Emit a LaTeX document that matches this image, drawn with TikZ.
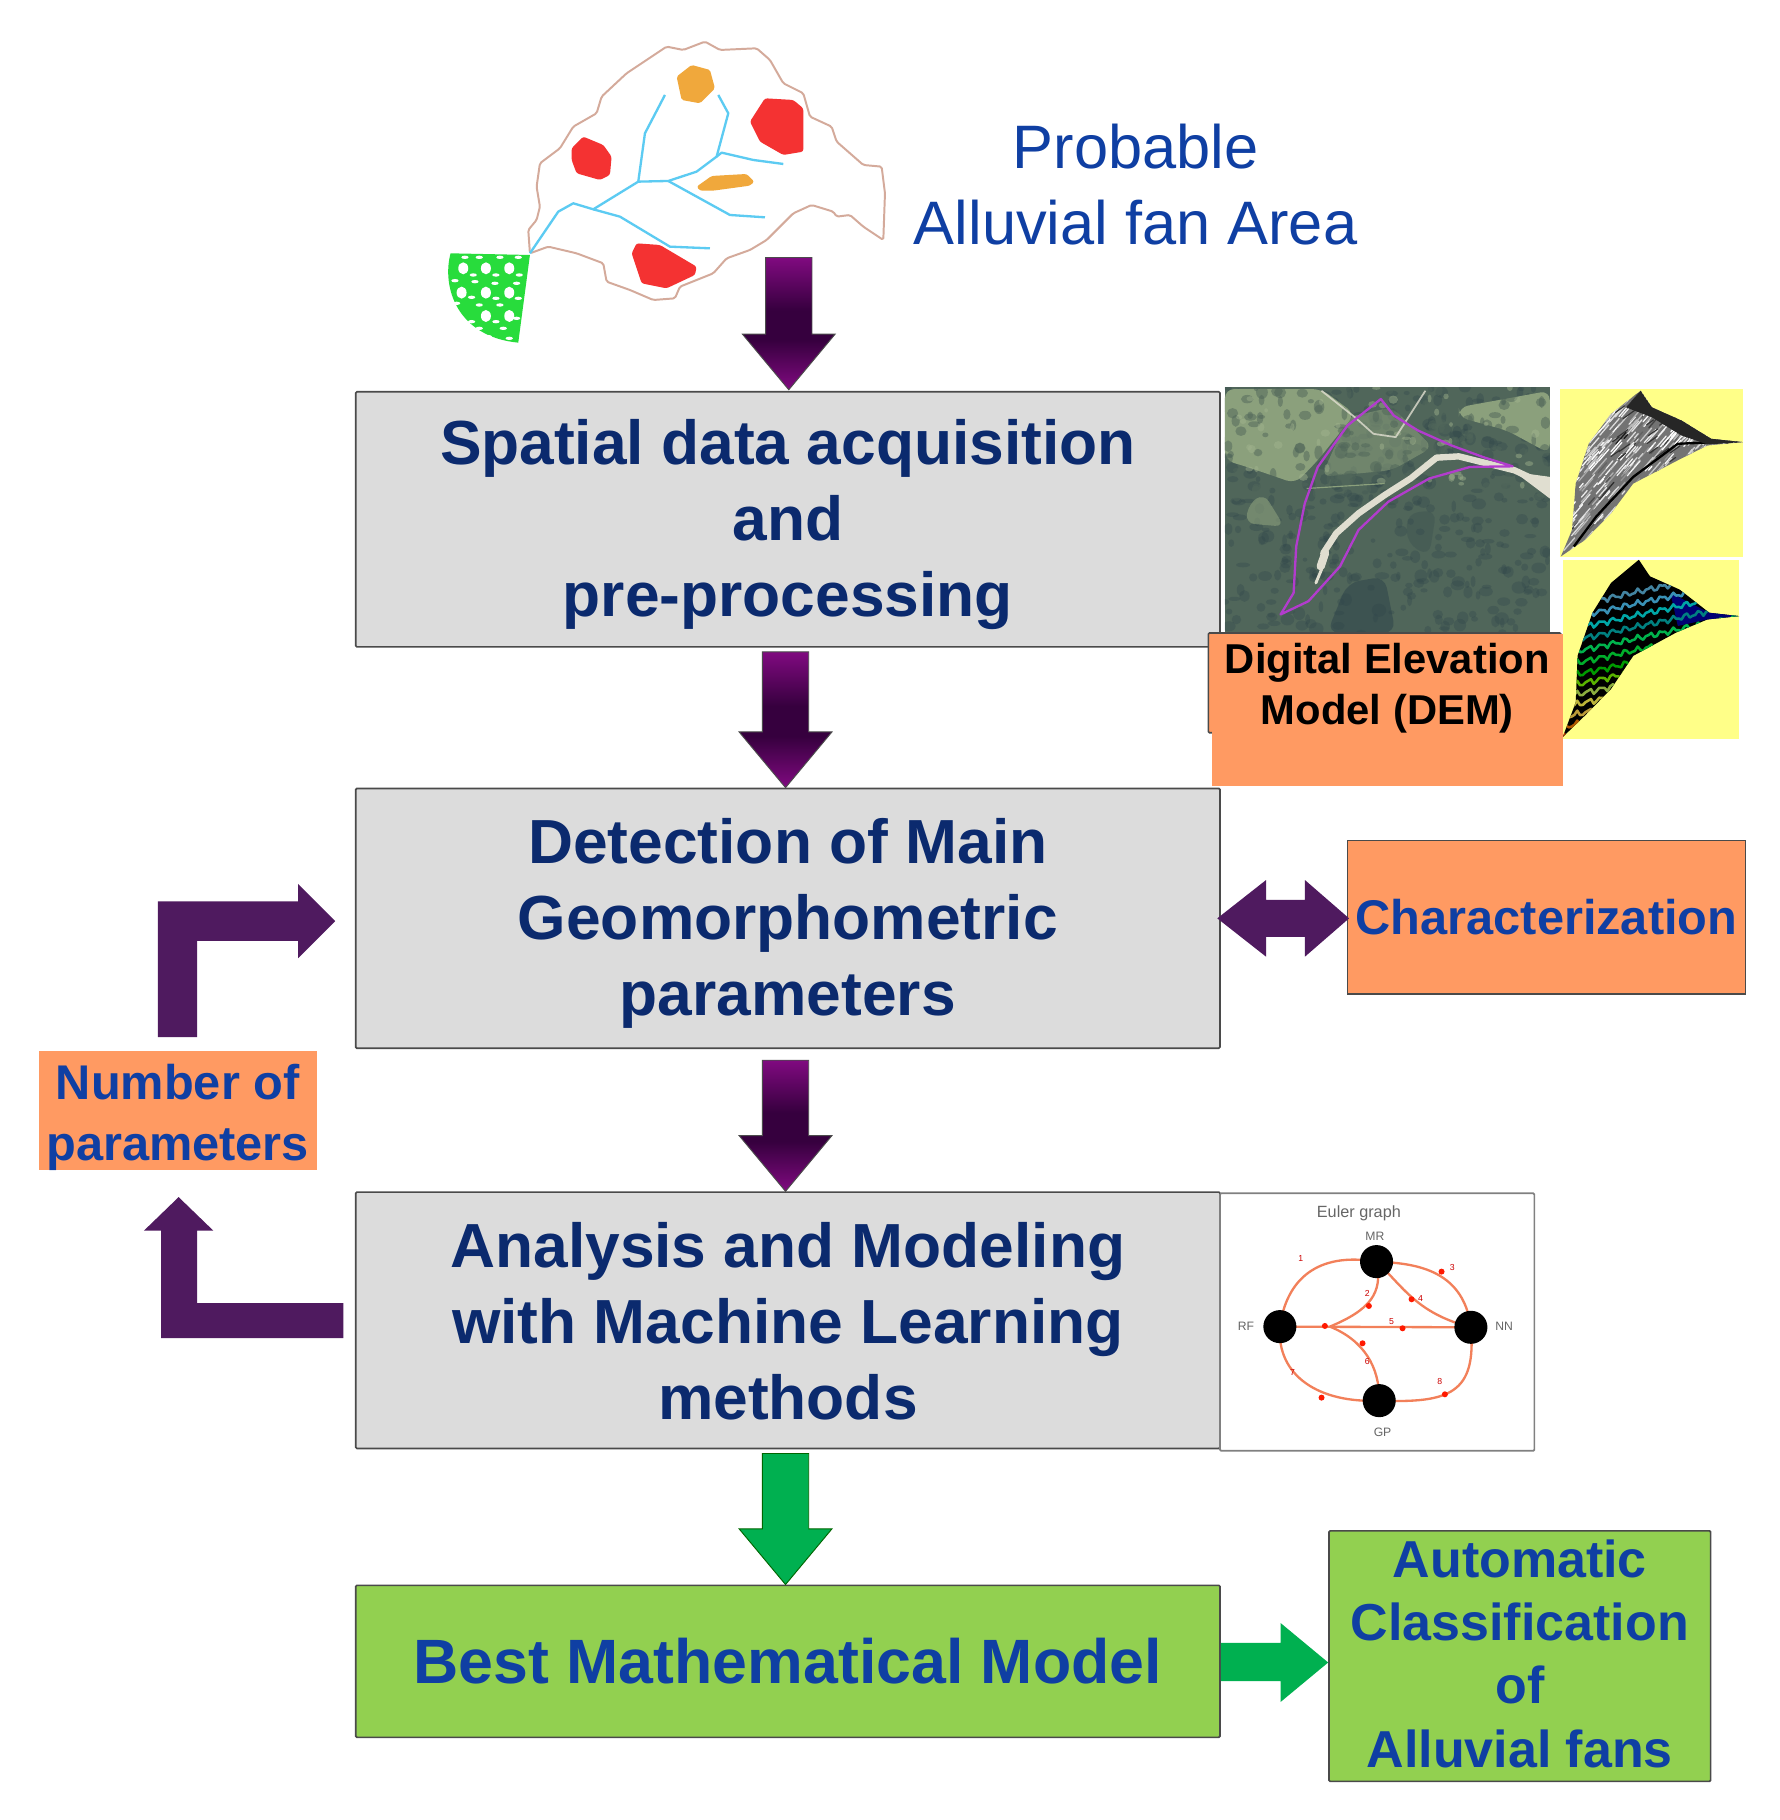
\documentclass[tikz,border=0pt]{standalone}
\usepackage{fontspec}
\setmainfont{Liberation Sans}
\usetikzlibrary{calc,arrows.meta,shadings}
\definecolor{navy}{HTML}{0B2A6E}
\definecolor{blu}{HTML}{0F3FA3}
\definecolor{boxgrey}{HTML}{DCDCDC}
\definecolor{edgegrey}{HTML}{4A4A4A}
\definecolor{lime}{HTML}{92D050}
\definecolor{salmon}{HTML}{FF9A62}
\definecolor{plum}{HTML}{4F1A5F}
\definecolor{arrowgreen}{HTML}{00B050}
\definecolor{pale}{HTML}{FFFF88}
\definecolor{euler}{HTML}{F2805A}
\definecolor{blobred}{HTML}{F43232}
\definecolor{bloborange}{HTML}{F0A83C}
\definecolor{fangreen}{HTML}{28DC3C}
\definecolor{pltip}{HTML}{800A80}
\definecolor{pldark}{HTML}{36003E}
\definecolor{pltop}{HTML}{800A80}
\definecolor{forest}{HTML}{50665A}
\definecolor{forestdark}{HTML}{2E444A}
\definecolor{field}{HTML}{8BA07C}
\definecolor{fieldlight}{HTML}{A2B48E}
\definecolor{gravel}{HTML}{E0DED0}
\definecolor{fanoutline}{HTML}{D4AA9B}
\definecolor{stream}{HTML}{5CCBF2}
\pgfdeclareverticalshading{plumshade}{100bp}{
 color(0bp)=(pltip); color(25bp)=(pltip); color(44bp)=(pldark); color(55bp)=(pldark); color(75bp)=(pltop); color(100bp)=(pltop)}
\tikzset{
 stepbox/.style={draw=edgegrey,line width=1.4pt,fill=boxgrey,rounded corners=1pt},
 greenbox/.style={draw=edgegrey,line width=1.4pt,fill=lime,rounded corners=1pt},
 saltbox/.style={draw=edgegrey,line width=1.4pt,fill=salmon},
 plainsalt/.style={fill=salmon},
 mainfont/.style={font=\fontsize{53.7}{65.5}\selectfont\bfseries,align=center,text=navy},
 side/.style={font=\fontsize{42}{52}\selectfont\bfseries,align=center,text=blu},
 enode/.style={circle,fill=black,inner sep=0pt,minimum size=28.5pt},
 elabel/.style={font=\fontsize{10.5}{12}\selectfont,text=black!60},
 enum/.style={font=\fontsize{7.5}{8}\selectfont,text=red!80!black,inner sep=0pt},
 eedge/.style={draw=euler,line width=2pt},
 fatfill/.style={fill=plum},
}
% fat downward arrow from #1 to #2; #3 = fill options
\newcommand{\fatdown}[3]{%
 \path[#3] let \p1=#1, \p2=#2 in
  (\x2-20pt,\y1) -- (\x2+20pt,\y1) -- (\x2+20pt,\y2+48pt) -- (\x2+40pt,\y2+48pt)
  -- (\x2,\y2) -- (\x2-40pt,\y2+48pt) -- (\x2-20pt,\y2+48pt) -- cycle;
}
\begin{document}
\begin{tikzpicture}[x=1pt,y=-1pt]
\useasboundingbox[fill=white] (0,0) rectangle (1534.5,1569);

% ---------- catchment sketch
\begin{scope}[shift={(362,17.2)},x=.2874pt,y=-.2874pt]
\fill[blobred,rounded corners=2pt] (455,385)--(490,350)--(550,375)--(575,410)--(570,465)--(540,480)--(470,460)--(455,420)--cycle;
\fill[blobred,rounded corners=2pt] (990,305)--(1035,235)--(1120,240)--(1150,265)--(1150,395)--(1090,405)--(1020,365)--cycle;
\fill[blobred,rounded corners=2pt] (635,700)--(650,670)--(720,675)--(830,740)--(825,765)--(740,805)--(665,790)--cycle;
\fill[bloborange,rounded corners=1.5pt] (770,170)--(815,135)--(870,150)--(885,205)--(840,250)--(785,240)--cycle;
\fill[bloborange,rounded corners=2pt] (830,500)--(875,468)--(980,462)--(1003,485)--(990,497)--(880,512)--(840,512)--cycle;
\draw[fanoutline,line width=1.7pt,line join=round,rounded corners=1.5pt]
 (330,700)--(325,630)--(350,600)--(360,560)--(350,500)--(360,430)--(420,385)--(460,320)--(530,280)--(545,230)--(620,160)--(740,80)--(790,90)--(855,65)--(900,90)--(1010,85)--(1050,120)--(1090,190)--(1150,220)--(1170,290)--(1235,320)--(1250,365)--(1330,435)--(1385,440)--(1395,520)--(1390,660)--(1330,620)--(1290,585)--(1250,590)--(1240,575)--(1175,555)--(1120,580)--(1040,660)--(990,690)--(920,715)--(880,760)--(780,800)--(765,835)--(700,840)--(630,810)--(560,785)--(550,730)--(470,700)--(385,680)--cycle;
\begin{scope}[stream,line width=2pt,line join=round]
\draw (330,700)--(415,575)--(460,550)--(520,568)--(655,485)--(745,483)--(830,455)--(890,410)--(925,280)--(895,225);
\draw (655,485)--(675,340)--(735,225);
\draw (890,410)--(905,398)--(1000,420)--(1090,432);
\draw (745,483)--(930,585)--(1035,592);
\draw (520,568)--(600,590)--(750,680)--(870,685);
\end{scope}
\fill[fangreen] (330,705)--(92,700) .. controls (65,800) and (110,950) .. (295,968) --cycle;
\foreach \xx/\yy in {130/745,198/745,268/745,125/818,198/818,268/818,198/888,268/888}{
 \fill[white] (\xx,\yy) ellipse (15 and 18);}
\foreach \xx/\yy in {135/712,178/712,240/712,295/712,160/765,228/765,298/765,105/782,165/785,225/790,290/790,155/832,228/835,295/835,110/850,178/855,240/855,155/905,228/905,290/895,178/925,205/950,250/925,268/955}{
 \fill[white] (\xx,\yy) ellipse (11 and 5);}
\end{scope}

% ---------- main boxes
\node[stepbox,minimum width=745pt,minimum height=220pt,anchor=north west,inner sep=0pt] (acq) at (306,337) {};
\node[mainfont] (acqt) at ([yshift=-4.5pt]acq.center) {Spatial data acquisition\\and\\pre-processing};
\node[stepbox,minimum width=745pt,minimum height=224pt,anchor=north west,inner sep=0pt] (det) at (306,679) {};
\node[mainfont] (dett) at ([yshift=-4pt]det.center) {Detection of Main\\Geomorphometric\\parameters};
\node[stepbox,minimum width=745pt,minimum height=221pt,anchor=north west,inner sep=0pt] (ana) at (306,1027) {};
\node[mainfont] (anat) at ([yshift=-0.5pt]ana.center) {Analysis and Modeling\\with Machine Learning\\methods};
\node[greenbox,minimum width=745pt,minimum height=131pt,anchor=north west,inner sep=0pt,mainfont,text=blu,font=\fontsize{54}{65}\selectfont\bfseries] (best) at (306,1366) {Best Mathematical Model};

% ---------- side boxes
\node[saltbox,minimum width=343pt,minimum height=132pt,anchor=north west,inner sep=0pt,side] (char) at (1161,724) {Characterization};
\node[plainsalt,minimum width=240pt,minimum height=102pt,anchor=north west,inner sep=0pt] (numpar) at (33,906) {};
\node[side] (numpart) at ([yshift=-6pt]numpar.center) {Number of\\parameters};
\node[greenbox,minimum width=329pt,minimum height=216pt,anchor=north west,inner sep=0pt] (auto) at (1145,1319) {};
\node[side,font=\fontsize{44.8}{54.5}\selectfont\bfseries] (autot) at ([yshift=2pt]auto.center) {Automatic\\Classification\\of\\Alluvial fans};

% ---------- aerial photo
\begin{scope}[shift={(1033.6,319.7)},x=.32pt,y=-.2857pt]
\clip (70,50) rectangle (945,790);
\fill[forest] (70,50) rectangle (945,790);
\pgfmathsetseed{11}
\foreach \i in {1,...,420}{
 \pgfmathsetmacro\px{70+875*rnd}\pgfmathsetmacro\py{50+740*rnd}
 \pgfmathsetmacro\pw{6+14*rnd}\pgfmathsetmacro\ph{6+14*rnd}
 \fill[forestdark,opacity=.3] (\px,\py) ellipse ({\pw} and {\ph});}
\fill[forestdark,opacity=.55,rounded corners=10pt] (345,790)--(400,640)--(500,620)--(530,790)--cycle;
\fill[forestdark,opacity=.25,rounded corners=10pt] (560,430)--(640,420)--(620,560)--(560,520)--cycle;
\fill[field,rounded corners=8pt] (70,55)--(330,55)--(420,130)--(320,270)--(260,340)--(130,290)--(70,270)--cycle;
\fill[field,rounded corners=8pt] (700,110)--(945,60)--(945,250)--(830,180)--(700,140)--cycle;
\fill[field,opacity=.6,rounded corners=8pt] (125,460)--(135,400)--(175,370)--(230,470)--cycle;
\fill[field,opacity=.55,rounded corners=8pt] (400,140)--(520,110)--(630,230)--(520,300)--(330,320)--cycle;
\foreach \i in {1,...,170}{
 \pgfmathsetmacro\px{70+875*rnd}\pgfmathsetmacro\py{50+330*rnd}
 \pgfmathsetmacro\pw{6+12*rnd}\pgfmathsetmacro\ph{6+16*rnd}
 \fill[forest,opacity=.5] (\px,\py) ellipse ({\pw} and {\ph});}
\foreach \i in {1,...,50}{
 \pgfmathsetmacro\px{70+875*rnd}\pgfmathsetmacro\py{50+300*rnd}
 \pgfmathsetmacro\pw{5+8*rnd}\pgfmathsetmacro\ph{5+8*rnd}
 \fill[fieldlight,opacity=.45] (\px,\py) ellipse ({\pw} and {\ph});}
\draw[gravel,line width=1.5pt,line join=round,opacity=.8] (330,60)--(420,140)--(470,190)--(530,200)--(610,60);
\draw[field,line width=1pt] (290,355)--(500,340);
\draw[gravel,line width=5.5pt,line join=round,line cap=round]
 (945,350)--(850,300)--(700,258)--(640,262)--(570,325)--(500,375)--(430,430)--(370,490)--(335,550);
\draw[gravel,line width=7pt,line cap=round] (340,550)--(328,590);
\draw[gravel,line width=2.5pt,line cap=round] (330,600)--(315,640);
\fill[gravel] (945,320)--(945,385)--(850,305)--cycle;
\draw[color={rgb,255:red,178;green,60;blue,205},line width=2pt,line join=round]
 (490,85)--(400,165)--(320,290)--(285,400)--(262,530)--(255,670)--(220,735)--(295,695)--(380,590)--(430,480)--(510,395)--(620,325)--(730,290)--(845,288)--(770,262)--(680,225)--(590,180)--(525,135)--cycle;
\end{scope}

% ---------- yellow panels
\fill[pale] (1345,335) rectangle (1503,480);
\fill[pale] (1347,483) rectangle (1499,637);
\begin{scope}[shift={(1033.6,319.7)},x=.32pt,y=-.2857pt]
\def\fanpath{(1190,60)--(1220,110)--(1300,150)--(1380,205)--(1465,215)--(1370,225)--(1290,270)--(1170,340)--(1110,430)--(1040,510)--(975,560)--(1005,480)--(1015,340)--(1050,220)--(1110,130)--cycle}
\fill[black!55] \fanpath;
\begin{scope}
\clip \fanpath;
\pgfmathsetseed{5}
\foreach \i in {1,...,700}{
 \pgfmathsetmacro\px{975+480*rnd}\pgfmathsetmacro\py{60+500*rnd}
 \pgfmathsetmacro\lc{int(100*rnd*rnd)}
 \pgfmathsetmacro\len{8+30*rnd}
 \draw[color=black!\lc!white,line width=1.1pt,line cap=round] (\px,\py)--++(\len,{-1.3*\len});}
\foreach \i in {1,...,50}{
 \pgfmathsetmacro\px{1100+365*rnd}\pgfmathsetmacro\py{60+220*rnd}
 \pgfmathsetmacro\len{8+26*rnd}
 \draw[black!80,line width=1pt,line cap=round] (\px,\py)--++(\len,{-.8*\len});}
\draw[black,line width=2pt] (1010,530)--(1070,440)--(1170,320)--(1290,220)--(1400,215);
\fill[black!85] (1190,60)--(1220,110)--(1300,150)--(1380,205)--(1465,215)--(1370,222)--(1300,195)--(1220,140)--(1150,110)--cycle;
\end{scope}
\def\fanpathb{(1185,570)--(1215,620)--(1295,660)--(1375,730)--(1455,740)--(1370,750)--(1285,790)--(1170,860)--(1110,960)--(1040,1040)--(980,1105)--(1015,1000)--(1020,860)--(1060,730)--(1110,640)--cycle}
\begin{scope}
\clip \fanpathb;
\fill[black] (975,565) rectangle (1460,1110);
\fill[blue!45!black] (1270,670)--(1375,730)--(1455,740)--(1370,750)--(1290,770)--cycle;
\foreach \yy/\cc in {630/cyan!60!black,665/cyan!70!black,700/teal!70!cyan,735/teal,770/teal!60!green,805/green!60!teal!85!black,840/green!60!black,870/green!50!yellow!70!black,900/yellow!60!green!75!black,930/yellow!70!black,960/yellow!55!orange!70!black,990/orange!70!black,1020/orange!65!red!70!black,1050/red!50!orange!60!black,1080/red!50!orange!60!black}{
 \draw[color=\cc,line width=2.2pt,line join=round] plot[domain=960:1470,samples=70] (\x,{\yy+90-0.24*(\x-960)+7*sin((\x-960)*11)+4*sin((\x-960)*29)});}
\end{scope}
\end{scope}

% ---------- DEM label
\node[draw=edgegrey,line width=1.4pt,fill=salmon,minimum width=304pt,minimum height=86pt,anchor=north west,inner sep=0pt,rounded corners=1pt] (demback) at (1041,545) {};
\node[plainsalt,minimum width=302pt,minimum height=131pt,anchor=north west,inner sep=0pt] (dem) at (1045,546) {};
\node[font=\fontsize{36}{44}\selectfont\bfseries,align=center,text=black,anchor=north] (demt) at (1196,551) {Digital Elevation\\Model (DEM)};

% ---------- Probable text
\node[font=\fontsize{52.9}{65}\selectfont,align=center,text=blu] (prob) at (979,159) {Probable\\Alluvial fan Area};

% ---------- down arrows
\coordinate (startA) at (680,222);
\coordinate (tipA) at (680,336);
\coordinate (startB) at (677,562);
\coordinate (startC) at (677,914);
\coordinate (startD) at (677,1253);
\coordinate (tipB) at ([xshift=-2pt]det.north);
\coordinate (tipC) at ([xshift=-2pt]ana.north);
\coordinate (tipD) at ([xshift=-2pt]best.north);
\fatdown{(startA)}{(tipA)}{shade,shading=plumshade,draw=black!70,line width=.8pt}
\fatdown{(startB)}{(tipB)}{shade,shading=plumshade,draw=black!70,line width=.8pt}
\fatdown{(startC)}{(tipC)}{shade,shading=plumshade,draw=black!70,line width=.8pt}
\fatdown{(startD)}{(tipD)}{fill=arrowgreen,draw=black!60!green,line width=.8pt}

% ---------- double arrow between det and char
\path[fatfill] let \p1=(det.east), \p2=(char.west) in
 (\x1-3pt,\y1) -- (\x1+39pt,\y1+33pt) -- (\x1+39pt,\y1+16pt) -- (\x2-36pt,\y1+16pt) -- (\x2-36pt,\y1+33pt)
 -- (\x2+2pt,\y1) -- (\x2-36pt,\y1-33pt) -- (\x2-36pt,\y1-16pt) -- (\x1+39pt,\y1-16pt) -- (\x1+39pt,\y1-33pt) -- cycle;

% ---------- green arrow best -> auto
\path[fill=arrowgreen] let \p1=(best.east), \p2=(auto.west) in
 (\x1,\y1+16pt) -- (\x2-41pt,\y1+16pt) -- (\x2-41pt,\y1+33pt) -- (\x2,\y1-1pt) -- (\x2-41pt,\y1-35pt) -- (\x2-41pt,\y1-17pt) -- (\x1,\y1-17pt) -- cycle;

% ---------- bent arrows
\coordinate (bendA) at (136,894);
\coordinate (tipN) at (154,1032);
\coordinate (tipE) at (289,794);
\path[fatfill] (bendA) -- (136,777) -- (257,777) -- (257,762) -- (tipE) -- (257,826) -- (257,811) -- (170,811) -- (170,894) -- cycle;
\coordinate (startE) at (296,1123.5);
\path[fatfill] (startE) -- (170,1123.5) -- (170,1061) -- (184,1061) -- (tipN) -- (124,1061) -- (139,1061) -- (139,1153.5) -- (296,1153.5) -- cycle;

% ---------- Euler graph panel
\node[draw=black!50,line width=1.5pt,fill=white,minimum width=271pt,minimum height=222pt,anchor=north west,inner sep=0pt,rounded corners=1pt] (panel) at (1051,1028) {};
\begin{scope}[shift={(1043,1017.2)},x=.2874pt,y=-.2874pt]
\coordinate (hub) at (360,440);
\coordinate (mrp) at (500,245);
\coordinate (rfp) at (210,440);
\coordinate (nnp) at (783,442);
\coordinate (gpp) at (508,662);
\draw[eedge] (rfp) .. controls (230,300) and (320,215) .. (mrp);
\draw[eedge] (mrp) .. controls (600,250) and (760,260) .. (nnp);
\draw[eedge] (mrp) .. controls (580,320) and (620,400) .. (nnp);
\draw[eedge] (rfp) -- (nnp);
\draw[eedge] (mrp) .. controls (520,340) and (480,390) .. (hub);
\draw[eedge] (gpp) .. controls (510,560) and (460,480) .. (hub);
\draw[eedge] (rfp) .. controls (200,590) and (330,670) .. (gpp);
\draw[eedge] (gpp) .. controls (720,670) and (800,640) .. (nnp);
\foreach \xx/\yy in {695/275,605/358,477/378,578/445,345/438,458/490,335/653,705/643}{
 \fill[red!80!orange] (\xx,\yy) circle (9);}
\node[enode] (MR) at (mrp) {};
\node[enode] (RF) at (rfp) {};
\node[enode] (NN) at (nnp) {};
\node[enode] (GP) at (gpp) {};
\node[elabel,font=\fontsize{14}{16}\selectfont] (etitle) at (447,100) {Euler graph};
\node[elabel] (lmr) at (495,168) {MR};
\node[elabel] (lrf) at (108,440) {RF};
\node[elabel] (lnn) at (883,440) {NN};
\node[elabel] (lgp) at (518,758) {GP};
\node[enum] (n1) at (273,237) {1};
\node[enum] (n2) at (472,342) {2};
\node[enum] (n3) at (727,262) {3};
\node[enum] (n4) at (632,355) {4};
\node[enum] (n5) at (545,425) {5};
\node[enum] (n6) at (472,545) {6};
\node[enum] (n7) at (248,578) {7};
\node[enum] (n8) at (690,605) {8};
\end{scope}
\end{tikzpicture}
\end{document}
